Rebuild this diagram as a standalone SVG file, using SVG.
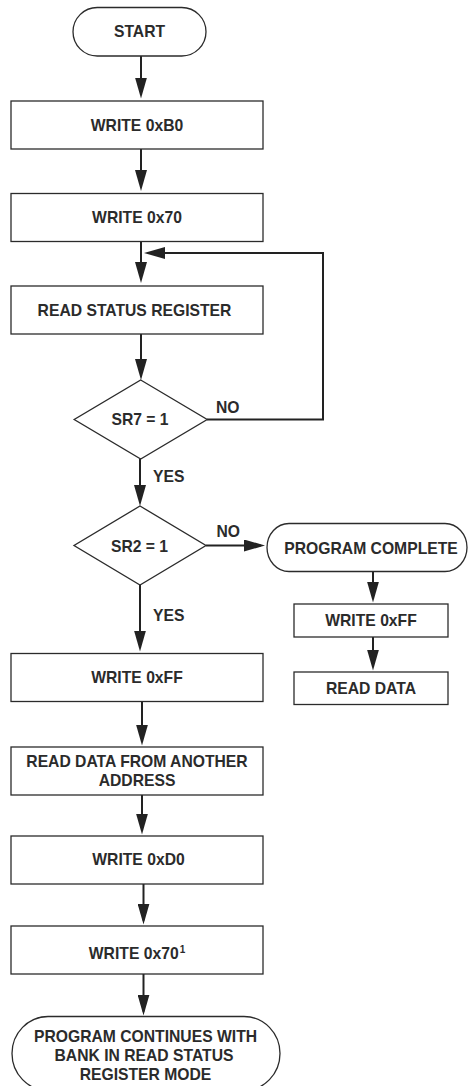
<svg xmlns="http://www.w3.org/2000/svg" width="469" height="1086" viewBox="0 0 469 1086">
  <style>
    .shape { fill: #ffffff; stroke: #2b2b2b; stroke-width: 1.3; }
    .link { fill: none; stroke: #222222; stroke-width: 2; }
    .label { font-family: "Liberation Sans", Arial, sans-serif; font-weight: bold; font-size: 15.7px; fill: #2b2b2b; text-anchor: middle; }
    .tag { font-family: "Liberation Sans", Arial, sans-serif; font-weight: bold; font-size: 15.7px; fill: #2b2b2b; }
  </style>
  <defs>
    <marker id="head" markerUnits="userSpaceOnUse" markerWidth="22" markerHeight="12" refX="17" refY="6" orient="auto">
      <path d="M0,0 L21,6 L0,12 Z" fill="#222222"/>
    </marker>
  </defs>
  <rect width="469" height="1086" fill="#ffffff"/>

  <!-- connectors -->
  <g id="connectors">
    <line class="link" x1="141" y1="56" x2="141" y2="94.5" marker-end="url(#head)"/>
    <line class="link" x1="141" y1="149" x2="141" y2="187" marker-end="url(#head)"/>
    <line class="link" x1="141" y1="242" x2="141" y2="279" marker-end="url(#head)"/>
    <!-- SR7 = 1 NO loop back -->
    <polyline class="link" points="207,419.5 323,419.5 323,253 148,253" marker-end="url(#head)"/>
    <line class="link" x1="141" y1="334" x2="141" y2="376" marker-end="url(#head)"/>
    <line class="link" x1="140" y1="459" x2="140" y2="502" marker-end="url(#head)"/>
    <line class="link" x1="206" y1="545.5" x2="261" y2="545.5" marker-end="url(#head)"/>
    <line class="link" x1="140" y1="585" x2="140" y2="647.5" marker-end="url(#head)"/>
    <line class="link" x1="373" y1="572" x2="373" y2="598.5" marker-end="url(#head)"/>
    <line class="link" x1="373" y1="637" x2="373" y2="666.5" marker-end="url(#head)"/>
    <line class="link" x1="142" y1="702" x2="142" y2="741.5" marker-end="url(#head)"/>
    <line class="link" x1="142" y1="795" x2="142" y2="830.5" marker-end="url(#head)"/>
    <line class="link" x1="143.5" y1="884" x2="143.5" y2="920.5" marker-end="url(#head)"/>
    <line class="link" x1="143.5" y1="974" x2="143.5" y2="1011.5" marker-end="url(#head)"/>
    <text class="tag" x="216" y="412.5">NO</text>
    <text class="tag" x="153" y="482">YES</text>
    <text class="tag" x="216.5" y="537">NO</text>
    <text class="tag" x="153" y="621">YES</text>
  </g>

  <g id="start">
    <rect class="shape" x="73" y="7.5" width="133" height="48.5" rx="24.25" ry="24.25"/>
    <text class="label" x="139.5" y="37">START</text>
  </g>
  <g id="write-b0">
    <rect class="shape" x="11" y="101" width="252" height="48"/>
    <text class="label" x="137" y="130.5">WRITE 0xB0</text>
  </g>
  <g id="write-70">
    <rect class="shape" x="11" y="193.5" width="252" height="48"/>
    <text class="label" x="137" y="223">WRITE 0x70</text>
  </g>
  <g id="read-status">
    <rect class="shape" x="11" y="286" width="252" height="48"/>
    <text class="label" x="134.5" y="315.5">READ STATUS REGISTER</text>
  </g>
  <g id="sr7">
    <polygon class="shape" points="140.7,380 207.2,419.5 140.7,459 74.2,419.5"/>
    <text class="label" x="140" y="425">SR7 = 1</text>
  </g>
  <g id="sr2">
    <polygon class="shape" points="140,506 206,545.5 140,585 74,545.5"/>
    <text class="label" x="139.5" y="551.5">SR2 = 1</text>
  </g>
  <g id="program-complete">
    <rect class="shape" x="267" y="523.5" width="200" height="48" rx="22" ry="24"/>
    <text class="label" x="371" y="554">PROGRAM COMPLETE</text>
  </g>
  <g id="write-ff-done">
    <rect class="shape" x="294" y="604" width="154" height="33"/>
    <text class="label" x="371" y="626">WRITE 0xFF</text>
  </g>
  <g id="read-data">
    <rect class="shape" x="294" y="672" width="154" height="32.5"/>
    <text class="label" x="371" y="694">READ DATA</text>
  </g>
  <g id="write-ff">
    <rect class="shape" x="11" y="653.5" width="252" height="48"/>
    <text class="label" x="137" y="683">WRITE 0xFF</text>
  </g>
  <g id="read-other">
    <rect class="shape" x="11" y="747" width="252" height="48"/>
    <text class="label" x="137" y="766.5">READ DATA FROM ANOTHER</text>
    <text class="label" x="137" y="786">ADDRESS</text>
  </g>
  <g id="write-d0">
    <rect class="shape" x="11" y="836" width="252" height="48"/>
    <text class="label" x="138.5" y="865">WRITE 0xD0</text>
  </g>
  <g id="write-70-again">
    <rect class="shape" x="11" y="926" width="252" height="48"/>
    <text class="label" x="137" y="959">WRITE 0x70<tspan font-size="10" dx="1" dy="-6">1</tspan></text>
  </g>
  <g id="continue">
    <rect class="shape" x="12" y="1016.5" width="268" height="74" rx="36" ry="37"/>
    <text class="label" x="145.5" y="1041.5">PROGRAM CONTINUES WITH</text>
    <text class="label" x="144" y="1061">BANK IN READ STATUS</text>
    <text class="label" x="145.5" y="1080">REGISTER MODE</text>
  </g>
</svg>
